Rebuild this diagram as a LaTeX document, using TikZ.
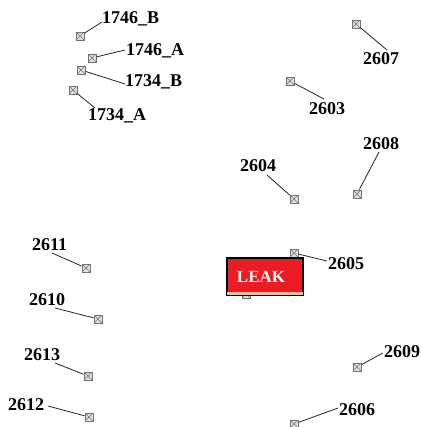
\documentclass[tikz,border=0pt]{standalone}
\usepackage{fontspec}
\setmainfont{Liberation Serif}
\definecolor{leakred}{RGB}{237,28,36}
\definecolor{leaktan}{RGB}{222,196,160}
\tikzset{
  marker/.style={draw=gray!90!black, fill=gray!25, line width=0.9pt, minimum size=8pt, inner sep=0pt,
    path picture={\draw[gray!90!black, line width=0.6pt] (path picture bounding box.south west) -- (path picture bounding box.north east)
      (path picture bounding box.north west) -- (path picture bounding box.south east);}},
  lbl/.style={font=\fontsize{18}{18}\selectfont\bfseries, inner sep=0pt, anchor=base west},
  conn/.style={draw=black!85, line width=0.8pt},
  leakbox/.style={draw=black, line width=1.3pt, fill=leakred, minimum width=76pt, minimum height=37pt, inner sep=0pt}
}
\begin{document}
\begin{tikzpicture}[x=1pt,y=-1pt]
\useasboundingbox (0,0) rectangle (420,427);
% markers
\node[marker] (m1) at (80,36) {};
\node[marker] (m2) at (92,58) {};
\node[marker] (m3) at (81,70) {};
\node[marker] (m4) at (73,90) {};
\node[marker] (m5) at (356,24) {};
\node[marker] (m6) at (290,81) {};
\node[marker] (m7) at (357,194) {};
\node[marker] (m8) at (294,199) {};
\node[marker] (m9) at (86,268) {};
\node[marker] (m10) at (98,319) {};
\node[marker] (m11) at (88,376) {};
\node[marker] (m12) at (89,417) {};
\node[marker] (m13) at (294,253) {};
\node[marker] (m14) at (357,367) {};
\node[marker] (m15) at (294,424) {};
\node[marker] (m16) at (246,294) {};
% labels
\node[lbl] (l1) at (102,24) {1746\_B};
\node[lbl] (l2) at (126,56) {1746\_A};
\node[lbl] (l3) at (125,87) {1734\_B};
\node[lbl] (l4) at (88,121) {1734\_A};
\node[lbl] (l5) at (363,65) {2607};
\node[lbl] (l6) at (309,115) {2603};
\node[lbl] (l7) at (363,150) {2608};
\node[lbl] (l8) at (240,172) {2604};
\node[lbl] (l9) at (32,250) {2611};
\node[lbl] (l10) at (29,305) {2610};
\node[lbl] (l11) at (24,360) {2613};
\node[lbl] (l12) at (8,410) {2612};
\node[lbl] (l13) at (328,269) {2605};
\node[lbl] (l14) at (384,357) {2609};
\node[lbl] (l15) at (339,415) {2606};
% connector ends
\coordinate (e1) at (102,22);
\coordinate (e2) at (125,50);
\coordinate (e3) at (125,84);
\coordinate (e4) at (95,108);
\coordinate (e5) at (387,50);
\coordinate (e6) at (324,99);
\coordinate (e7) at (379,152);
\coordinate (e8) at (267,175);
\coordinate (e9) at (52,253);
\coordinate (e10) at (55,308);
\coordinate (e11) at (55,363);
\coordinate (e12) at (48,406);
\coordinate (e13) at (327,261);
\coordinate (e14) at (383,353);
\coordinate (e15) at (338,408);
\foreach \i in {1,...,15} { \draw[conn] (m\i) -- (e\i); }
% leak box
\node[leakbox] (leak) at (265,276.5) {};
\fill[leaktan] ([shift={(0.7pt,0.7pt)}]leak.south west) rectangle ([shift={(-0.7pt,4pt)}]leak.south east);
\node[text=white, font=\fontsize{17}{17}\selectfont\bfseries, inner sep=0pt, anchor=base] (leaktext) at (261,282) {LEAK};
\end{tikzpicture}
\end{document}
